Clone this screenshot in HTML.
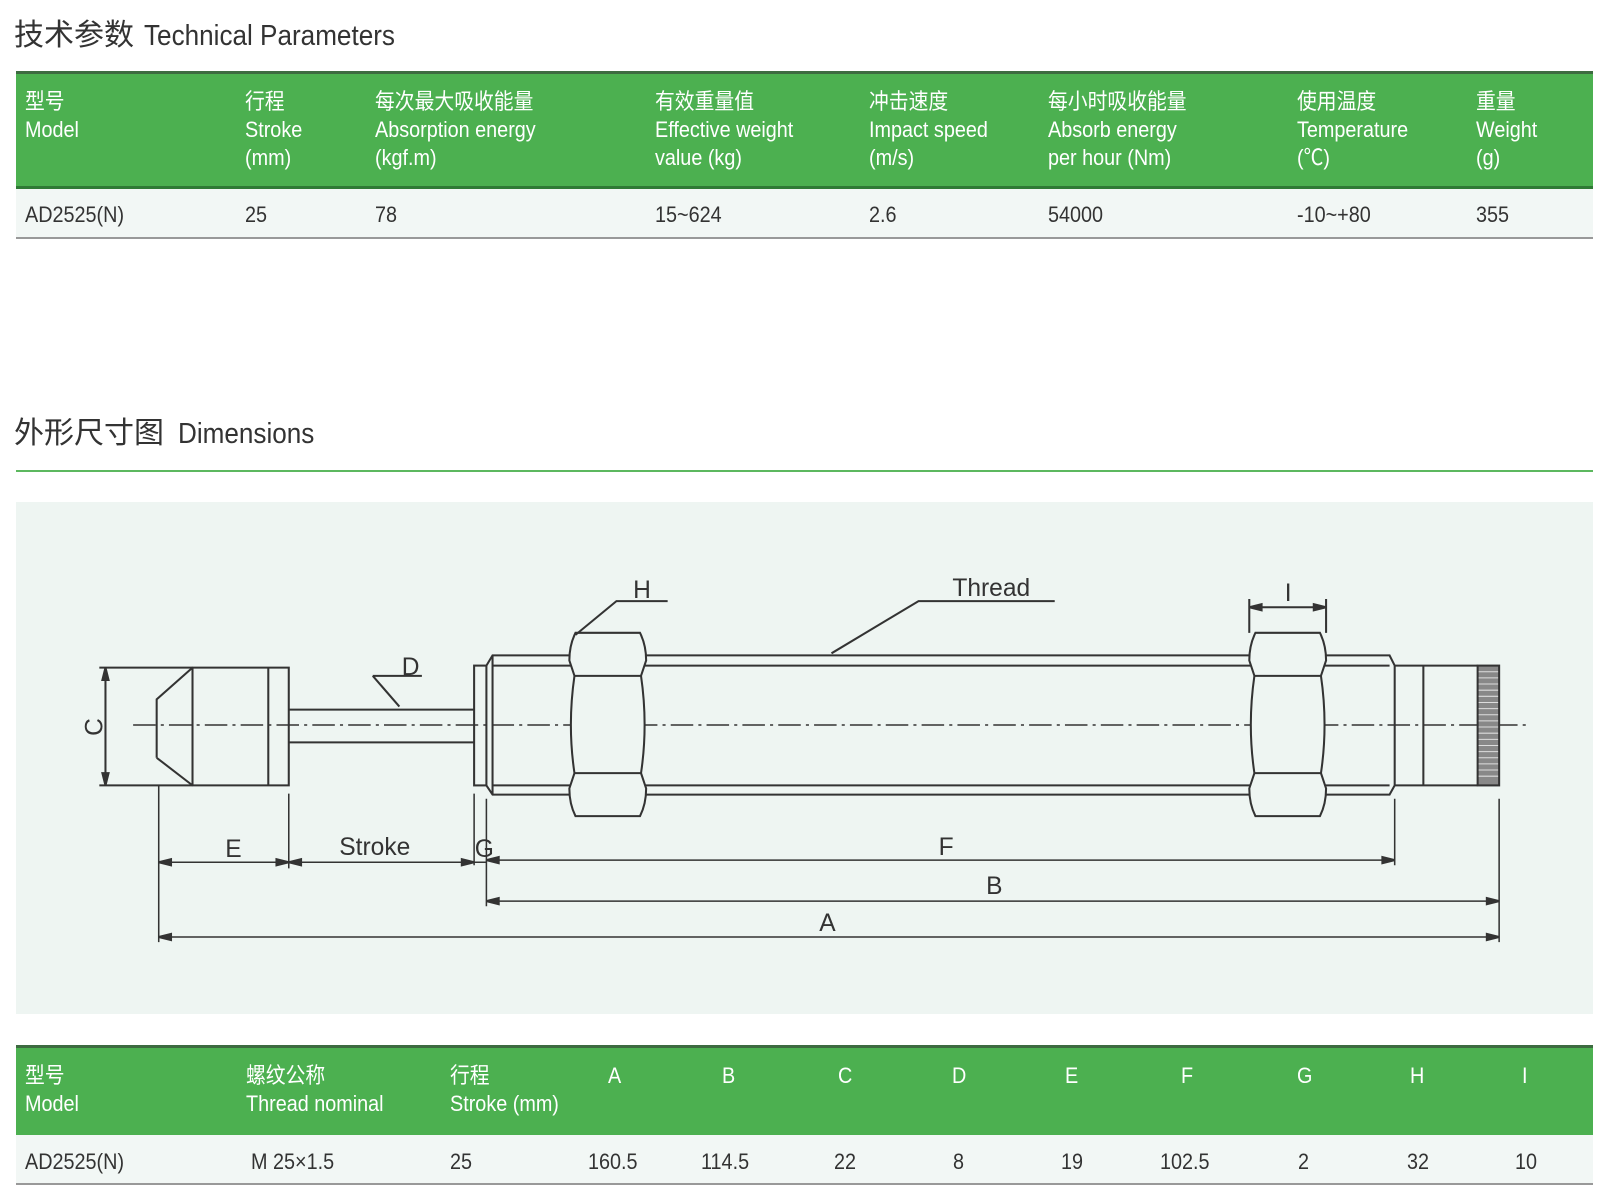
<!DOCTYPE html>
<html><head><meta charset="utf-8"><style>
body{margin:0;width:1600px;height:1198px;background:#fff;position:relative;overflow:hidden;font-family:"Liberation Sans Narrow","Liberation Sans","Noto Sans CJK SC",sans-serif;color:#333}
.t{position:absolute;white-space:nowrap}
.title{font-size:30px;color:#333}
.title .e{font-size:29px;display:inline-block;transform:scaleX(.9);transform-origin:left;margin-left:10px}
.hdr{position:absolute;left:16px;width:1577px;background:#4cb050;border-top:3px solid #3d6b40;border-bottom:3px solid #2f7a35}
.row{position:absolute;left:16px;width:1577px;background:#f2f7f5;border-bottom:2px solid #999}
.h{color:#fff;font-size:22px;line-height:28px;transform:scaleX(.9);transform-origin:left}
.r{font-size:22px;color:#333;transform:scaleX(.9);transform-origin:left}
</style></head><body>
<div class="t title" style="left:14px;top:10px;font-family:'Noto Sans CJK SC',sans-serif">技术参数<span class="e" style="font-family:'Liberation Sans Narrow','Liberation Sans',sans-serif">Technical Parameters</span></div>
<div class="hdr" style="top:71px;height:112px"></div>
<div class="row" style="top:189px;height:48px"></div>
<div class="t h" style="left:25px;top:88px">型号<br>Model</div>
<div class="t h" style="left:245px;top:88px">行程<br>Stroke<br>(mm)</div>
<div class="t h" style="left:375px;top:88px">每次最大吸收能量<br>Absorption energy<br>(kgf.m)</div>
<div class="t h" style="left:655px;top:88px">有效重量值<br>Effective weight<br>value (kg)</div>
<div class="t h" style="left:869px;top:88px">冲击速度<br>Impact speed<br>(m/s)</div>
<div class="t h" style="left:1048px;top:88px">每小时吸收能量<br>Absorb energy<br>per hour (Nm)</div>
<div class="t h" style="left:1297px;top:88px">使用温度<br>Temperature<br>(℃)</div>
<div class="t h" style="left:1476px;top:88px">重量<br>Weight<br>(g)</div>
<div class="t r" style="left:25px;top:202px">AD2525(N)</div>
<div class="t r" style="left:245px;top:202px">25</div>
<div class="t r" style="left:375px;top:202px">78</div>
<div class="t r" style="left:655px;top:202px">15~624</div>
<div class="t r" style="left:869px;top:202px">2.6</div>
<div class="t r" style="left:1048px;top:202px">54000</div>
<div class="t r" style="left:1297px;top:202px">-10~+80</div>
<div class="t r" style="left:1476px;top:202px">355</div>

<div class="t title" style="left:14px;top:408px;font-family:'Noto Sans CJK SC',sans-serif">外形尺寸图<span class="e" style="font-family:'Liberation Sans Narrow','Liberation Sans',sans-serif;margin-left:14px">Dimensions</span></div>
<div style="position:absolute;left:16px;top:470px;width:1577px;height:2px;background:#5cb85f"></div>
<div style="position:absolute;left:16px;top:502px;width:1577px;height:512px;background:#eef5f2"></div>

<svg style="position:absolute;left:0;top:0" width="1600" height="1198">
<g transform="scale(1.024)" fill="none" stroke="#333" stroke-width="2">
<line x1="130" y1="708" x2="1490" y2="708" stroke-width="1.5" stroke-dasharray="22,5,3,5"/>
<line x1="97" y1="652" x2="188" y2="652"/><line x1="97" y1="767" x2="188" y2="767"/>
<line x1="103" y1="655" x2="103" y2="764"/>
<path d="M103 652 l-3 12 h6z M103 767 l-3 -12 h6z" fill="#333"/>
<path d="M153 740 V683 L188 652 H282 V767 H188 L153 740"/>
<line x1="188" y1="652" x2="188" y2="767"/><line x1="262" y1="652" x2="262" y2="767"/>
<path d="M282 693 H463 M282 725 H463"/>
<rect x="463" y="650" width="12" height="117"/>
<path d="M475 650 L481 640 H1357 L1362 650 V767 L1357 776 H481 L475 767"/>
<line x1="481" y1="640" x2="481" y2="776"/>
<path d="M481 650 H1357 M481 767 H1357"/>
<g id="nut">
<path d="M562 618 H625 Q631 630 631 645 L626 660 Q633 708 626 755 L631 770 Q631 785 625 797 H562 Q556 785 556 770 L561 755 Q554 708 561 660 L556 645 Q556 630 562 618Z" fill="#eef5f2"/>
<path d="M561 660 H626 M561 755 H626"/>
</g>
<use href="#nut" transform="translate(664,0)"/>
<path d="M1362 650 H1443 M1362 767 H1443 M1390 650 V767"/>
<rect x="1443" y="650" width="21" height="117" fill="#888"/>
<g stroke="#ddd" stroke-width="1">
<path d="M1444 656H1463M1444 662H1463M1444 668H1463M1444 674H1463M1444 680H1463M1444 686H1463M1444 692H1463M1444 698H1463M1444 704H1463M1444 710H1463M1444 716H1463M1444 722H1463M1444 728H1463M1444 734H1463M1444 740H1463M1444 746H1463M1444 752H1463M1444 758H1463"/>
</g>
<path d="M364 660 H412 M364 660 L390 690"/>
<path d="M652 587 H602 L562 620"/>
<path d="M1030 587 H897 L812 638"/>
<path d="M1220 585 V618 M1295 585 V618 M1220 593 H1295"/>
<path d="M1220 593 l12 -3 v6z M1295 593 l-12 -3 v6z" fill="#333"/>
<path d="M155 767 V920 M282 775 V848 M463 775 V845 M475 780 V885 M1362 780 V845 M1464 780 V920" stroke-width="1.5"/>
<path d="M155 842 H282 M282 842 H463 M463 842 H475 M475 840 H1362 M475 880 H1464 M155 915 H1464" stroke-width="1.5"/>
<path d="M155 842 l12 -3 v6z M282 842 l-12 -3 v6z M282 842 l12 -3 v6z M463 842 l-12 -3 v6z M475 840 l12 -3 v6z M1362 840 l-12 -3 v6z M475 880 l12 -3 v6z M1464 880 l-12 -3 v6z M155 915 l12 -3 v6z M1464 915 l-12 -3 v6z" fill="#333"/>
</g>
<g transform="scale(1.024)" font-family="Liberation Sans, sans-serif" font-size="24" fill="#333" text-anchor="middle">
<text x="228" y="837">E</text><text x="366" y="835">Stroke</text><text x="473" y="837">G</text>
<text x="924" y="835">F</text><text x="971" y="873">B</text><text x="808" y="909">A</text>
<text x="401" y="659">D</text><text x="627" y="584">H</text><text x="968" y="582">Thread</text><text x="1258" y="587">I</text>
<text transform="translate(100,710) rotate(-90)" x="0" y="0">C</text>
</g>
</svg>

<div class="hdr" style="top:1045px;height:87px"></div>
<div class="row" style="top:1135px;height:48px"></div>
<div class="t h" style="left:25px;top:1062px">型号<br>Model</div>
<div class="t h" style="left:246px;top:1062px">螺纹公称<br>Thread nominal</div>
<div class="t h" style="left:450px;top:1062px">行程<br>Stroke (mm)</div>
<div class="t h" style="left:608px;top:1062px">A</div>
<div class="t h" style="left:722px;top:1062px">B</div>
<div class="t h" style="left:838px;top:1062px">C</div>
<div class="t h" style="left:952px;top:1062px">D</div>
<div class="t h" style="left:1065px;top:1062px">E</div>
<div class="t h" style="left:1181px;top:1062px">F</div>
<div class="t h" style="left:1297px;top:1062px">G</div>
<div class="t h" style="left:1410px;top:1062px">H</div>
<div class="t h" style="left:1522px;top:1062px">I</div>
<div class="t r" style="left:25px;top:1149px">AD2525(N)</div>
<div class="t r" style="left:251px;top:1149px">M 25×1.5</div>
<div class="t r" style="left:450px;top:1149px">25</div>
<div class="t r" style="left:588px;top:1149px">160.5</div>
<div class="t r" style="left:701px;top:1149px">114.5</div>
<div class="t r" style="left:834px;top:1149px">22</div>
<div class="t r" style="left:953px;top:1149px">8</div>
<div class="t r" style="left:1061px;top:1149px">19</div>
<div class="t r" style="left:1160px;top:1149px">102.5</div>
<div class="t r" style="left:1298px;top:1149px">2</div>
<div class="t r" style="left:1407px;top:1149px">32</div>
<div class="t r" style="left:1515px;top:1149px">10</div>
</body></html>
